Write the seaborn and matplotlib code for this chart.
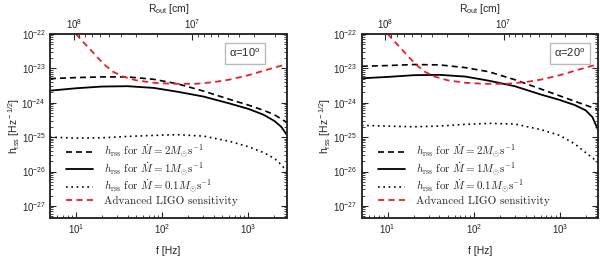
import numpy as np
import matplotlib
matplotlib.use("Agg")
import matplotlib.pyplot as plt
import seaborn as sns
from matplotlib.font_manager import FontProperties
from matplotlib.ticker import LogLocator, NullFormatter


# Data (values are log10 of h_rss)

freq = [5, 10, 20, 40, 80, 150, 300, 600, 1000, 1500, 2000, 2400, 2800]

# alpha = 10 deg
left_mdot2 = [-23.30, -23.27, -23.25, -23.25, -23.32, -23.45, -23.66,
              -23.90, -24.07, -24.22, -24.35, -24.47, -24.58]
left_mdot1 = [-23.65, -23.58, -23.53, -23.52, -23.57, -23.68, -23.82,
              -24.02, -24.18, -24.35, -24.53, -24.70, -24.94]
left_mdot01 = [-25.00, -25.03, -25.02, -24.98, -24.95, -24.93, -24.97,
               -25.12, -25.28, -25.45, -25.62, -25.80, -26.00]

# alpha = 20 deg
right_mdot2 = [-22.94, -22.92, -22.89, -22.90, -22.98, -23.10, -23.33,
               -23.60, -23.80, -23.96, -24.07, -24.14, -24.20]
right_mdot1 = [-23.29, -23.25, -23.20, -23.19, -23.24, -23.36, -23.52,
               -23.76, -23.92, -24.07, -24.22, -24.42, -24.80]
right_mdot01 = [-24.66, -24.68, -24.70, -24.68, -24.63, -24.60, -24.62,
                -24.78, -24.95, -25.20, -25.45, -25.60, -25.75]

# Advanced LIGO sensitivity
ligo_freq = [10, 12, 15, 18, 22, 27, 35, 50, 80, 130, 250, 400, 600,
             1000, 1600, 2200, 2800]
ligo_log = [-22.00, -22.22, -22.48, -22.70, -22.92, -23.10, -23.24,
            -23.35, -23.42, -23.45, -23.45, -23.40, -23.33, -23.20,
            -23.05, -22.95, -22.88]

panel_labels = ["α=10$^{\\rm o}$", "α=20$^{\\rm o}$"]

legend_labels = [
    r"$h_{\rm rss}$ for $\dot{M}=2M_{\odot}{\rm s}^{-1}$",
    r"$h_{\rm rss}$ for $\dot{M}=1M_{\odot}{\rm s}^{-1}$",
    r"$h_{\rm rss}$ for $\dot{M}=0.1M_{\odot}{\rm s}^{-1}$",
    "Advanced LIGO sensitivity",
]


sns.set_style("ticks")
plt.rcParams["font.family"] = ["Liberation Sans", "DejaVu Sans"]
plt.rcParams["mathtext.fontset"] = "custom"
plt.rcParams["mathtext.rm"] = "Liberation Sans"
plt.rcParams["mathtext.it"] = "Liberation Sans:italic"
plt.rcParams["axes.linewidth"] = 1.1

fig = plt.figure(figsize=(6, 2.57), dpi=100)

axes_rects = [
    [0.0833, 0.152, 0.395, 0.716],
    [0.603, 0.152, 0.394, 0.716],
]

panels = [
    (left_mdot2, left_mdot1, left_mdot01),
    (right_mdot2, right_mdot1, right_mdot01),
]

box_x = [0.823, 0.88]

legend_font = FontProperties(family="cmr10", size=8.0, math_fontfamily="cm")

for i, (mdot2, mdot1, mdot01) in enumerate(panels):

    ax = fig.add_axes(axes_rects[i])

    sns.lineplot(
        x=freq, y=np.power(10.0, mdot2), ax=ax,
        color="black", lw=1.2, linestyle=(0, (3.6, 2.4)),
        label=legend_labels[0]
    )

    sns.lineplot(
        x=freq, y=np.power(10.0, mdot1), ax=ax,
        color="black", lw=1.3, linestyle="-",
        label=legend_labels[1]
    )

    sns.lineplot(
        x=freq, y=np.power(10.0, mdot01), ax=ax,
        color="black", lw=1.2, linestyle=(0, (1, 2.2)),
        label=legend_labels[2]
    )

    sns.lineplot(
        x=ligo_freq, y=np.power(10.0, ligo_log), ax=ax,
        color="#e8202e", lw=1.3, linestyle=(0, (3.4, 2.4)),
        label=legend_labels[3]
    )

    ax.set_xscale("log")
    ax.set_yscale("log")

    ax.set_xlim(5, 2800)
    ax.set_ylim(10 ** -27.35, 1e-22)

    ax.yaxis.set_major_locator(LogLocator(base=10, numticks=10))
    ax.yaxis.set_minor_locator(
        LogLocator(base=10, subs=np.arange(2, 10), numticks=20)
    )
    ax.yaxis.set_minor_formatter(NullFormatter())

    ax.tick_params(
        which="both", direction="in", top=False, right=True,
        labelsize=7, pad=3
    )
    ax.tick_params(which="major", length=4, width=0.8)
    ax.tick_params(which="minor", length=2, width=0.6)

    ax.set_xlabel("f [Hz]", fontsize=7.5)
    ax.set_ylabel("h$_{\\rm rss}$ [Hz$^{\\rm -1/2}$]", fontsize=7.5)
    ax.xaxis.set_label_coords(0.5, -0.15)
    ax.yaxis.set_label_coords(-0.12, 0.5)

    ax.legend(
        loc="lower left",
        bbox_to_anchor=(0.04, 0.03),
        frameon=False,
        prop=legend_font,
        handlelength=2.4,
        handletextpad=1.0,
        labelspacing=0.05,
        borderaxespad=0.2
    )

    ax.text(
        box_x[i], 0.895, panel_labels[i],
        transform=ax.transAxes, ha="center", va="center", fontsize=8,
        bbox=dict(boxstyle="square,pad=0.4", fc="white",
                  ec="#bbbbbb", lw=1.0)
    )

    # Top axis: outer radius
    top = ax.twiny()
    top.set_xscale("log")
    top.set_xlim(10 ** 8.2, 10 ** 6.2)
    top.xaxis.set_minor_formatter(NullFormatter())
    top.tick_params(which="both", direction="in", labelsize=7, pad=2)
    top.tick_params(which="major", length=4, width=0.8)
    top.tick_params(which="minor", length=2, width=0.6)
    top.set_xlabel("R$_{\\rm out}$ [cm]", fontsize=7.5, labelpad=4)

fig.savefig("out.png", dpi=100)
